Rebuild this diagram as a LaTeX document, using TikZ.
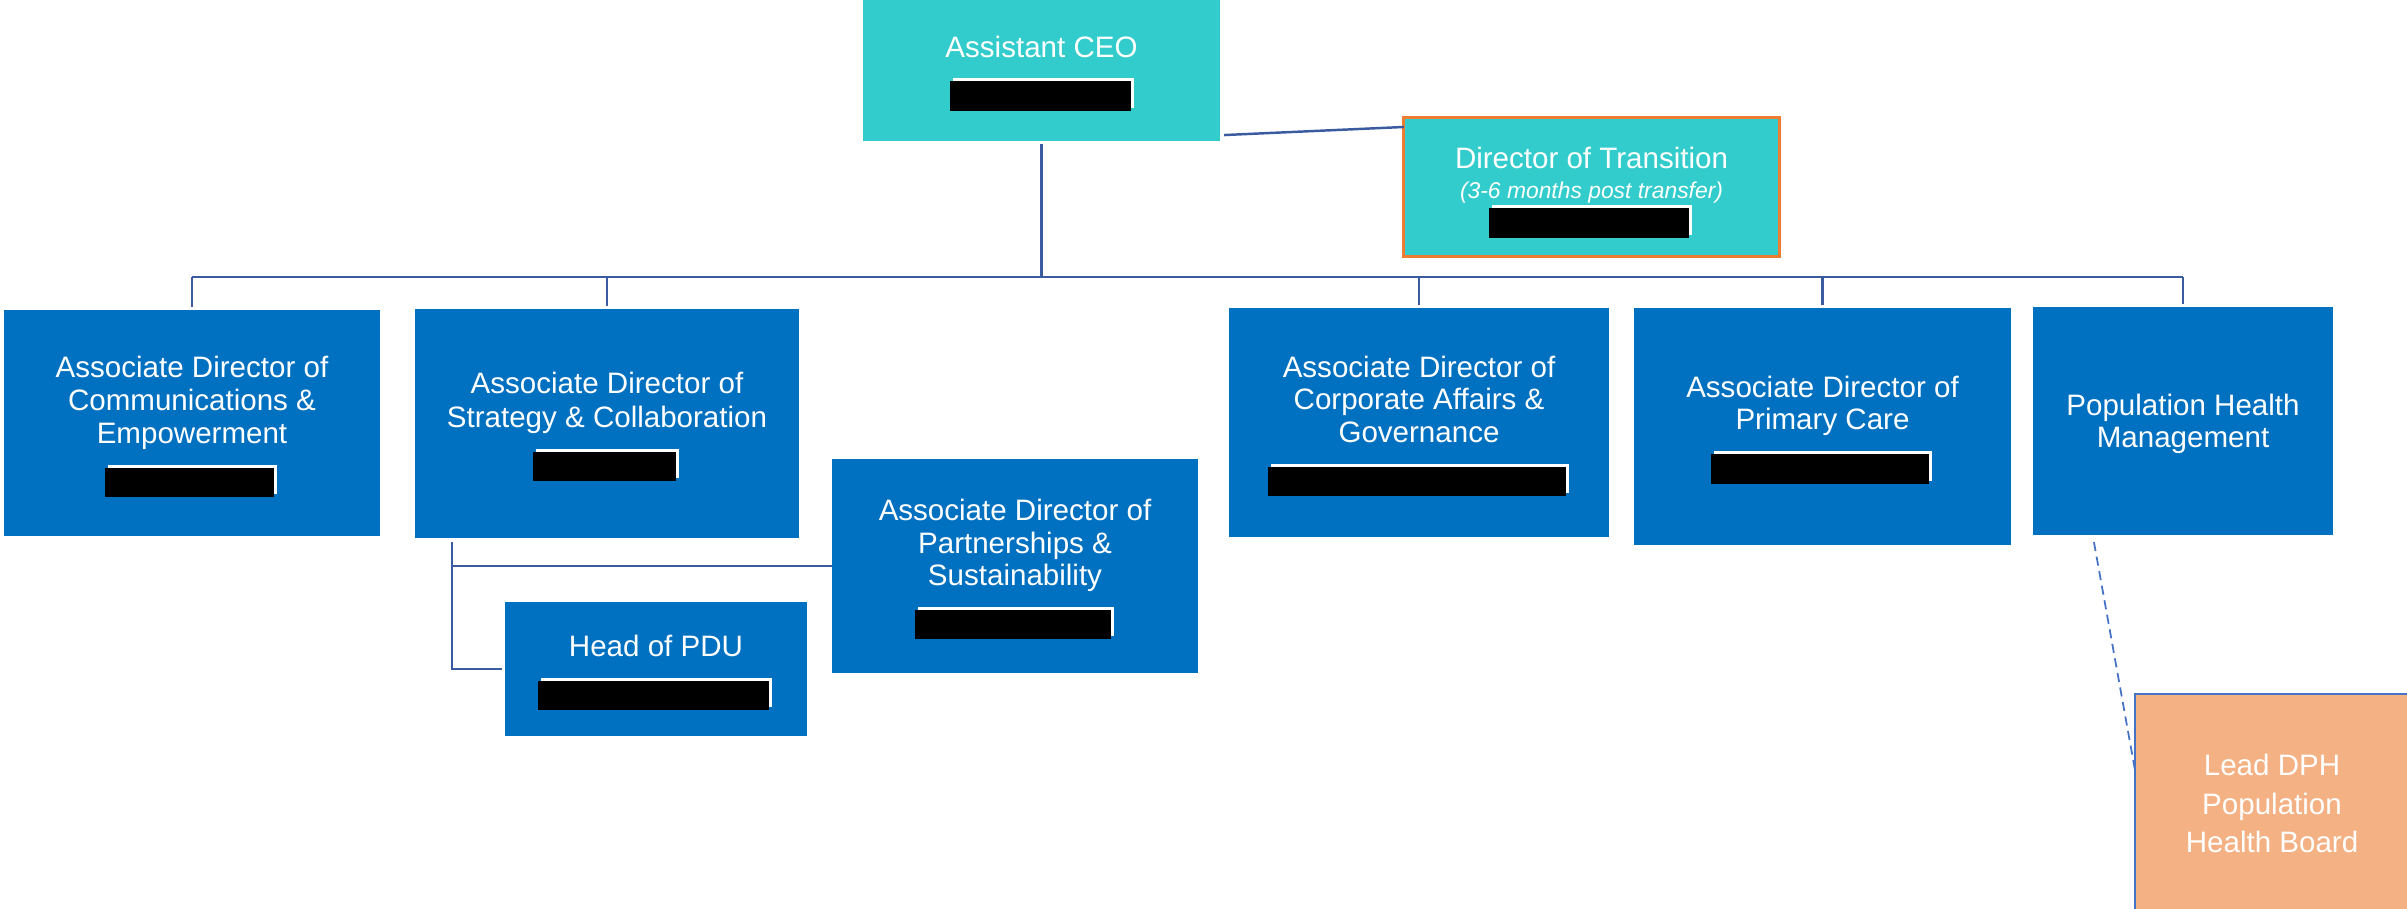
\documentclass[tikz,border=0pt]{standalone}
\usepackage{fontspec}
\setmainfont{Liberation Sans}
\usetikzlibrary{calc}
\definecolor{tealA}{HTML}{33CCCC}
\definecolor{blueA}{HTML}{0070C0}
\definecolor{peachA}{HTML}{F4B183}
\definecolor{orangeA}{HTML}{ED7D31}
\definecolor{lineA}{HTML}{3A5BA0}
\definecolor{dashA}{HTML}{4472C4}
\newcommand\redact[4]{%
  \fill[white] (#1+3,#2-3) rectangle (#3+3,#4-3);
  \fill[black] (#1,#2) rectangle (#3,#4);}
\tikzset{
  boxbase/.style={rectangle, inner sep=0pt, outer sep=0pt},
  bluebox/.style={boxbase, fill=blueA},
  tealbox/.style={boxbase, fill=tealA},
  transbox/.style={boxbase, fill=tealA, draw=orangeA, line width=0.85pt},
  peachbox/.style={boxbase, fill=peachA, draw=dashA, line width=0.5pt},
  txt/.style={anchor=base, text=white, inner sep=0pt, font=\fontsize{8.4}{9.4}\selectfont},
  itxt/.style={anchor=base, text=white, inner sep=0pt, font=\fontsize{6.5}{7.5}\selectfont\itshape},
  conn/.style={draw=lineA, line width=0.7pt},
  dconn/.style={draw=dashA, line width=0.5pt, dash pattern=on 2.6pt off 1.6pt}
}
\begin{document}
\begin{tikzpicture}[x=0.01cm,y=-0.01cm]
\useasboundingbox (0,0) rectangle (2407,908);

% boxes
\node[tealbox, minimum width=3.57cm, minimum height=1.41cm] (ceo) at (1041.5,70.5) {};
\node[transbox, minimum width=3.75cm, minimum height=1.38cm] (trans) at (1591.5,187) {};
\node[bluebox, minimum width=3.76cm, minimum height=2.26cm] (comm) at (192,423) {};
\node[bluebox, minimum width=3.84cm, minimum height=2.29cm] (strat) at (607,423.5) {};
\node[bluebox, minimum width=3.66cm, minimum height=2.14cm] (partner) at (1015,566) {};
\node[bluebox, minimum width=3.02cm, minimum height=1.34cm] (pdu) at (656,669) {};
\node[bluebox, minimum width=3.80cm, minimum height=2.29cm] (corp) at (1419,422.5) {};
\node[bluebox, minimum width=3.77cm, minimum height=2.37cm] (prim) at (1822.5,426.5) {};
\node[bluebox, minimum width=3.00cm, minimum height=2.28cm] (phm) at (2183,421) {};
\node[peachbox, minimum width=2.74cm, minimum height=2.24cm] (lead) at (2272,806) {};

% texts
\node[txt] (t1) at (1041.5,57) {Assistant CEO};
\node[txt] (t2) at (1591.5,168) {Director of Transition};
\node[itxt] (t3) at (1591.5,198) {(3-6 months post transfer)};
\node[txt] (t4) at (192,377) {Associate Director of};
\node[txt] (t5) at (192,410) {Communications \&};
\node[txt] (t6) at (192,443) {Empowerment};
\node[txt] (t7) at (607,393) {Associate Director of};
\node[txt] (t8) at (607,427) {Strategy \& Collaboration};
\node[txt] (t9) at (1015,520) {Associate Director of};
\node[txt] (t10) at (1015,553) {Partnerships \&};
\node[txt] (t11) at (1015,585) {Sustainability};
\node[txt] (t12) at (656,656) {Head of PDU};
\node[txt] (t13) at (1419,377) {Associate Director of};
\node[txt] (t14) at (1419,409) {Corporate Affairs \&};
\node[txt] (t15) at (1419,442) {Governance};
\node[txt] (t16) at (1822.5,397) {Associate Director of};
\node[txt] (t17) at (1822.5,429) {Primary Care};
\node[txt] (t18) at (2183,415) {Population Health};
\node[txt] (t19) at (2183,447) {Management};
\node[txt] (t20) at (2272,775) {Lead DPH};
\node[txt] (t21) at (2272,814) {Population};
\node[txt] (t22) at (2272,852) {Health Board};

% redaction bars
\redact{950}{81}{1131}{111}
\redact{1489}{208}{1689}{238}
\redact{105}{468}{274}{497}
\redact{533}{452}{676}{481}
\redact{915}{610}{1111}{639}
\redact{538}{681}{769}{710}
\redact{1268}{467}{1566}{496}
\redact{1711}{454}{1929}{484}

% connectors
\coordinate (busL) at (192,277);
\coordinate (busR) at (2183,277);
\draw[conn] ([yshift=-0.8pt]ceo.south) -- (ceo.south |- busL);
\draw[conn] (busL) -- (busR);
\foreach \n in {comm,strat,corp,prim,phm}
  \draw[conn] (\n.north |- busL) -- ([yshift=0.8pt]\n.north);
\draw[conn] ($(ceo.south east)+(4,-6)$) -- ($(trans.north west)+(0,9)$);
\coordinate (sv) at ($(strat.south west)+(37,4)$);
\draw[conn] (sv) |- ([xshift=-0.8pt]pdu.west);
\draw[conn] (sv |- partner.west) -- (partner.west);
\draw[dconn] ($(phm.south west)+(61,7)$) -- ($(lead.north west)+(0,76)$);
\end{tikzpicture}
\end{document}
